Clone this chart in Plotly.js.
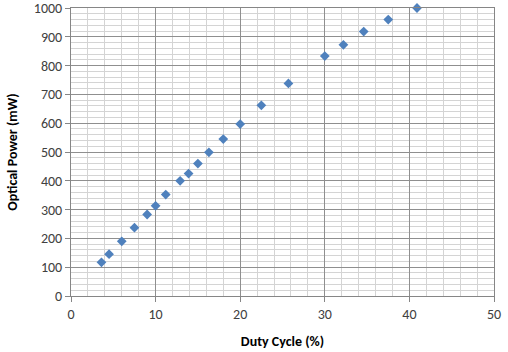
<!DOCTYPE html>
<html>
<head>
<meta charset="utf-8">
<script src="https://cdn.plot.ly/plotly-3.0.1.min.js"></script>
<style>html,body{margin:0;padding:0;background:#fff;}#chart{width:508px;height:352px;}</style>
</head>
<body>
<div id="chart"></div>
<script>
const dutyCycle = [3.6, 4.5, 6.0, 7.5, 9.0, 10.0, 11.2, 12.9, 13.9, 15.0, 16.3, 18.0, 20.0, 22.5, 25.7, 30.0, 32.2, 34.6, 37.5, 40.9];
const opticalPower = [117, 145, 190, 237, 283, 313, 352, 400, 425, 460, 499, 545, 597, 662, 738, 833, 872, 918, 960, 1000];
const xTitle = "Duty Cycle (%)";
const yTitle = "Optical Power (mW)";

const font = "Calibri, Carlito, 'Open Sans', 'Liberation Sans', sans-serif";
const trace = {
  x: dutyCycle, y: opticalPower, type: "scatter", mode: "markers",
  cliponaxis: false,
  marker: {symbol: "diamond", size: 7.5, color: "#4F81BD", line: {width: 0}},
  hoverinfo: "none"
};
const layout = {
  width: 508, height: 352,
  margin: {l: 71, r: 14, t: 8, b: 56},
  paper_bgcolor: "#fff", plot_bgcolor: "#fff",
  showlegend: false,
  font: {family: font, color: "#404040", size: 14},
  xaxis: {
    range: [0, 50], dtick: 10, tick0: 0,
    showgrid: true, gridcolor: "#8f8f8f", gridwidth: 1,
    minor: {dtick: 2, showgrid: true, gridcolor: "#d4d4d4", gridwidth: 1},
    showline: true, linecolor: "#868686", linewidth: 1, mirror: true,
    ticks: "outside", ticklen: 5, tickcolor: "#868686",
    zeroline: false, fixedrange: true, ticklabeloverflow: "allow",
    tickfont: {family: font, size: 14, color: "#404040"},
    title: {text: "<b>" + xTitle + "</b>", font: {family: font, size: 14, color: "#000"}, standoff: 14}
  },
  yaxis: {
    range: [0, 1000], dtick: 100, tick0: 0,
    showgrid: true, gridcolor: "#8f8f8f", gridwidth: 1,
    minor: {dtick: 20, showgrid: true, gridcolor: "#d4d4d4", gridwidth: 1},
    showline: true, linecolor: "#868686", linewidth: 1, mirror: true,
    ticks: "outside", ticklen: 5, tickcolor: "#868686",
    zeroline: false, fixedrange: true, ticklabeloverflow: "allow",
    tickfont: {family: font, size: 14, color: "#404040"},
    title: {text: "<b>" + yTitle + "</b>", font: {family: font, size: 14, color: "#000"}, standoff: 12}
  }
};
Plotly.newPlot("chart", [trace], layout, {displayModeBar: false, staticPlot: true});
</script>
</body>
</html>
